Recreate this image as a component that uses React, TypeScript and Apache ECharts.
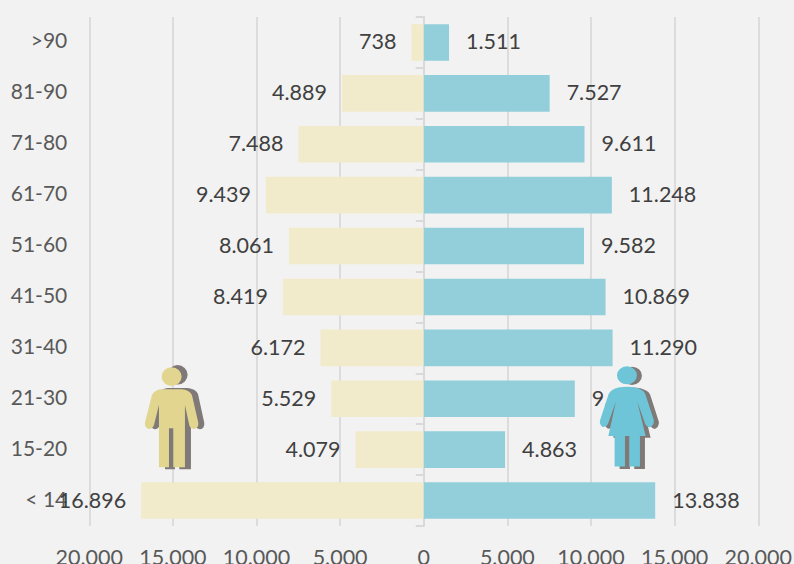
import React, { useEffect, useRef } from "react";
import * as echarts from "echarts";

const categories = ["< 14", "15-20", "21-30", "31-40", "41-50", "51-60", "61-70", "71-80", "81-90", ">90"];
const menValues = [16896, 4079, 5529, 6172, 8419, 8061, 9439, 7488, 4889, 738];
const womenValues = [13838, 4863, 9032, 11290, 10869, 9582, 11248, 9611, 7527, 1511];

const FONT = "Lato";
const fmt = (v: number) => {
  const s = String(Math.abs(v));
  return s.length > 3 ? s.slice(0, -3) + "." + s.slice(-3) : s;
};

const manPath =
  "M95 80 A30 28 0 1 1 155 80 A30 28 0 1 1 95 80 Z " +
  "M95 118 L155 118 Q178 120 186 135 L205 218 Q207 235 192 237 Q180 236 178 225 L165 165 L165 352 L130 352 L130 235 L117 235 L117 352 L87 352 L87 165 L72 225 Q68 237 56 237 Q43 234 45 218 L66 135 Q74 120 95 118 Z";
const womanPath =
  "M111 76 A30 27 0 1 1 171 76 A30 27 0 1 1 111 76 Z " +
  "M141 110 Q170 110 185 120 Q193 124 196 132 L222 212 Q222 228 210 232 Q200 232 195 220 L172 155 L197 258 L180 258 L180 350 L148 350 L148 258 L135 258 L135 350 L104 350 L104 258 L85 258 L108 155 L84 222 Q78 233 68 231 Q58 225 60 212 L86 132 Q90 124 97 120 Q112 110 141 110 Z";

export default function App() {
  const ref = useRef<HTMLDivElement>(null);
  useEffect(() => {
    echarts.graphic.registerShape("manFig", echarts.graphic.extendPath(manPath, {}));
    echarts.graphic.registerShape("womanFig", echarts.graphic.extendPath(womanPath, {}));
    const chart = echarts.init(ref.current!, null, { renderer: "svg" });
    const s = 1 / 3;
    chart.setOption({
      animation: false,
      backgroundColor: "#f2f2f2",
      textStyle: { fontFamily: FONT },
      grid: { left: 89.25, right: 35.75, top: 17, bottom: 38, outerBoundsMode: "none" },
      xAxis: {
        type: "value",
        min: -20000,
        max: 20000,
        interval: 5000,
        axisLine: { show: false },
        axisTick: { show: false },
        splitLine: { show: true, lineStyle: { color: "#dcdcdc", width: 2 } },
        axisLabel: {
          show: true,
          margin: 20,
          fontSize: 21.5,
          fontFamily: FONT,
          color: "#595959",
          formatter: (v: number) => fmt(v),
        },
      },
      yAxis: [
        {
          type: "category",
          data: categories,
          axisLine: { show: false, onZero: false },
          axisTick: { show: false },
          axisLabel: {
            margin: 22,
            fontSize: 21,
            fontFamily: FONT,
            color: "#595959",
            verticalAlign: "bottom",
            lineHeight: 5,
          },
        },
        {
          type: "category",
          data: categories,
          position: "left",
          axisLine: { show: true, onZero: true, lineStyle: { color: "#d9d9d9", width: 2 } },
          axisTick: { show: true, length: 8, lineStyle: { color: "#d9d9d9", width: 2 } },
          axisLabel: { show: false },
        },
      ],
      series: [
        {
          type: "bar",
          yAxisIndex: 0,
          data: menValues.map((v) => -v),
          barWidth: "72%",
          barGap: "-100%",
          z: 3,
          itemStyle: { color: "#f1ebcb" },
          label: {
            show: true,
            position: "left",
            distance: 15,
            offset: [0, -1],
            fontSize: 21.5,
            fontFamily: FONT,
            color: "#404040",
            formatter: (p: any) => fmt(p.value),
          },
        },
        {
          type: "bar",
          yAxisIndex: 0,
          data: womenValues,
          barWidth: "72%",
          barGap: "-100%",
          z: 3,
          itemStyle: { color: "#92cfda" },
          label: {
            show: true,
            position: "right",
            distance: 17,
            offset: [0, -1],
            fontSize: 21.5,
            fontFamily: FONT,
            color: "#404040",
            formatter: (p: any) => fmt(p.value),
          },
        },
      ],
      graphic: [
        { type: "manFig", x: 136, y: 347, scaleX: s * 1.0, scaleY: s * 1.04, z: 100, style: { fill: "#7f7a78" } },
        { type: "manFig", x: 130, y: 350, scaleX: s, scaleY: s, z: 101, style: { fill: "#e2d590" } },
        { type: "womanFig", x: 585, y: 350, scaleX: s, scaleY: s * 1.02, z: 100, style: { fill: "#7f7a78" } },
        { type: "womanFig", x: 580, y: 350, scaleX: s, scaleY: s, z: 101, style: { fill: "#6fc5d8" } },
      ],
    });
    return () => chart.dispose();
  }, []);
  return <div ref={ref} style={{ position: "fixed", left: 0, top: 0, width: 794, height: 564 }} />;
}
